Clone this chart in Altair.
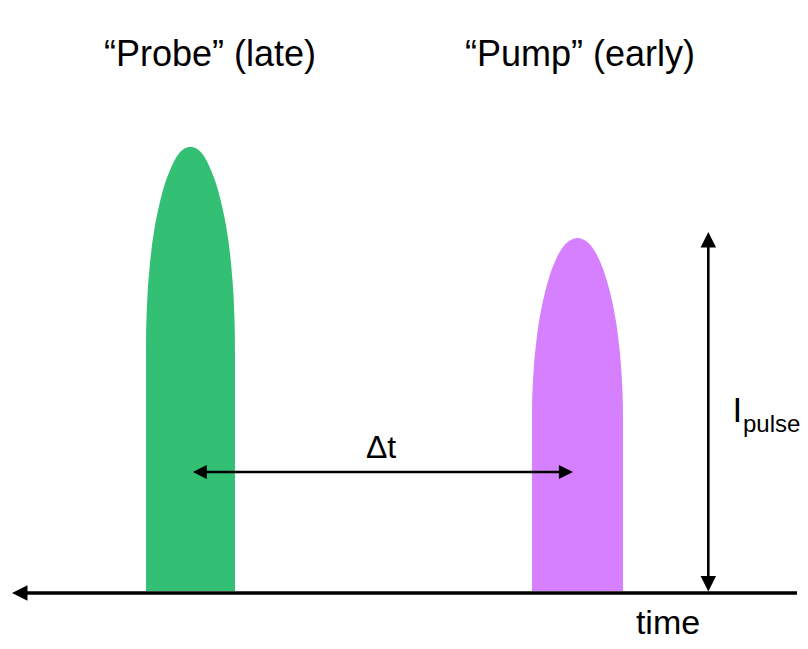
import altair as alt
import pandas as pd

# ---- data (page-pixel coordinates) ----
BASE = 591

green_x = [146.0, 146.1, 146.6, 147.5, 149.2, 151.3, 154.4, 159.0, 163.6, 170.5, 177.1, 183.8, 190.5,
           197.2, 203.9, 210.5, 217.4, 222.0, 226.6, 229.7, 231.8, 233.5, 234.4, 234.9, 235.0]
green_top = [352, 336, 317, 295, 272, 251, 229, 206, 188, 169, 156, 149, 147,
             149, 156, 169, 188, 206, 229, 251, 272, 295, 317, 336, 352]

purple_x = [532.0, 532.1, 532.7, 533.8, 535.6, 537.9, 541.1, 545.6, 550.2, 557.0, 563.8, 570.7, 577.5,
            584.3, 591.2, 598.0, 604.8, 609.4, 613.9, 617.1, 619.4, 621.2, 622.3, 622.9, 623.0]
purple_top = [418, 404, 387, 368, 348, 329, 310, 290, 274, 257, 246, 240, 238,
              240, 246, 257, 274, 290, 310, 329, 348, 368, 387, 404, 418]

# line segments: axis, delta-t arrow, I_pulse arrow
seg_name = ["axis", "dt", "ipulse"]
seg_x1 = [16, 200, 708.3]
seg_x2 = [797, 566, 708.3]
seg_y1 = [593, 472, 240]
seg_y2 = [593, 472, 584]

# arrow tips
tip_x = [12, 192.7, 573, 708.3, 708.3]
tip_y = [593, 472, 472, 232, 591.5]
tip_dir = ["left", "left", "right", "up", "down"]
tip_kind = ["big", "small", "small", "big", "big"]

# text labels
title_labels = ["\u201cProbe\u201d (late)", "\u201cPump\u201d (early)"]
title_x = [210, 580]
title_y = [66, 66]

W, H = 792, 633
xs = alt.Scale(domain=[8, 800], nice=False, zero=False)
ys = alt.Scale(domain=[8, 641], nice=False, zero=False, reverse=True)
X = lambda f: alt.X(f, scale=xs, axis=None)
Y = lambda f: alt.Y(f, scale=ys, axis=None)

green = pd.DataFrame({"x": green_x, "y": green_top, "b": BASE})
purple = pd.DataFrame({"x": purple_x, "y": purple_top, "b": BASE})

g_area = alt.Chart(green).mark_area(color="#33BF74", interpolate="monotone").encode(
    x=X("x:Q"), y=Y("y:Q"), y2="b:Q")
p_area = alt.Chart(purple).mark_area(color="#D680FF", interpolate="monotone").encode(
    x=X("x:Q"), y=Y("y:Q"), y2="b:Q")

segs = pd.DataFrame({"name": seg_name, "x1": seg_x1, "x2": seg_x2, "y1": seg_y1, "y2": seg_y2})
axis_rule = alt.Chart(segs[segs.name == "axis"]).mark_rule(color="black", strokeWidth=3.5).encode(
    x=X("x1:Q"), x2="x2:Q", y=Y("y1:Q"), y2="y2:Q")
arrow_rules = alt.Chart(segs[segs.name != "axis"]).mark_rule(color="black", strokeWidth=2.6).encode(
    x=X("x1:Q"), x2="x2:Q", y=Y("y1:Q"), y2="y2:Q")

paths = {
    "left": "M 0 0 L 2 -1 L 2 1 Z",
    "right": "M 0 0 L -2 -1 L -2 1 Z",
    "up": "M 0 0 L -1 2 L 1 2 Z",
    "down": "M 0 0 L -1 -2 L 1 -2 Z",
}
tips = pd.DataFrame({"x": tip_x, "y": tip_y, "dir": tip_dir, "kind": tip_kind})
heads = alt.Chart(tips).mark_point(filled=True, fill="black", opacity=1, strokeWidth=0).encode(
    x=X("x:Q"), y=Y("y:Q"),
    shape=alt.Shape("dir:N", scale=alt.Scale(domain=list(paths.keys()), range=list(paths.values())), legend=None),
    size=alt.Size("kind:N", scale=alt.Scale(domain=["big", "small"], range=[240, 200]), legend=None),
)

titles = alt.Chart(pd.DataFrame({"x": title_x, "y": title_y, "t": title_labels})).mark_text(
    font="Liberation Sans", fontSize=36, align="center", baseline="alphabetic", color="black").encode(
    x=X("x:Q"), y=Y("y:Q"), text="t:N")

dt_text = alt.Chart(pd.DataFrame({"x": [381], "y": [458], "t": ["\u0394t"]})).mark_text(
    font="Liberation Sans", fontSize=32, align="center", baseline="alphabetic", color="black").encode(
    x=X("x:Q"), y=Y("y:Q"), text="t:N")

i_text = alt.Chart(pd.DataFrame({"x": [732.5], "y": [421.7], "t": ["I"]})).mark_text(
    font="Liberation Sans", fontSize=35, align="left", baseline="alphabetic", color="black").encode(
    x=X("x:Q"), y=Y("y:Q"), text="t:N")
sub_text = alt.Chart(pd.DataFrame({"x": [743], "y": [431.7], "t": ["pulse"]})).mark_text(
    font="Liberation Sans", fontSize=24, align="left", baseline="alphabetic", color="black").encode(
    x=X("x:Q"), y=Y("y:Q"), text="t:N")

time_text = alt.Chart(pd.DataFrame({"x": [668], "y": [634], "t": ["time"]})).mark_text(
    font="Liberation Sans", fontSize=34, align="center", baseline="alphabetic", color="black").encode(
    x=X("x:Q"), y=Y("y:Q"), text="t:N")

chart = alt.layer(
    g_area, p_area, axis_rule, arrow_rules, heads, titles, dt_text, i_text, sub_text, time_text
).properties(
    width=W, height=H, padding=0, autosize=alt.AutoSizeParams(type="none"), background="white"
).configure_view(stroke=None)

chart.save("out.html", embed_options={"renderer": "svg", "actions": False})
